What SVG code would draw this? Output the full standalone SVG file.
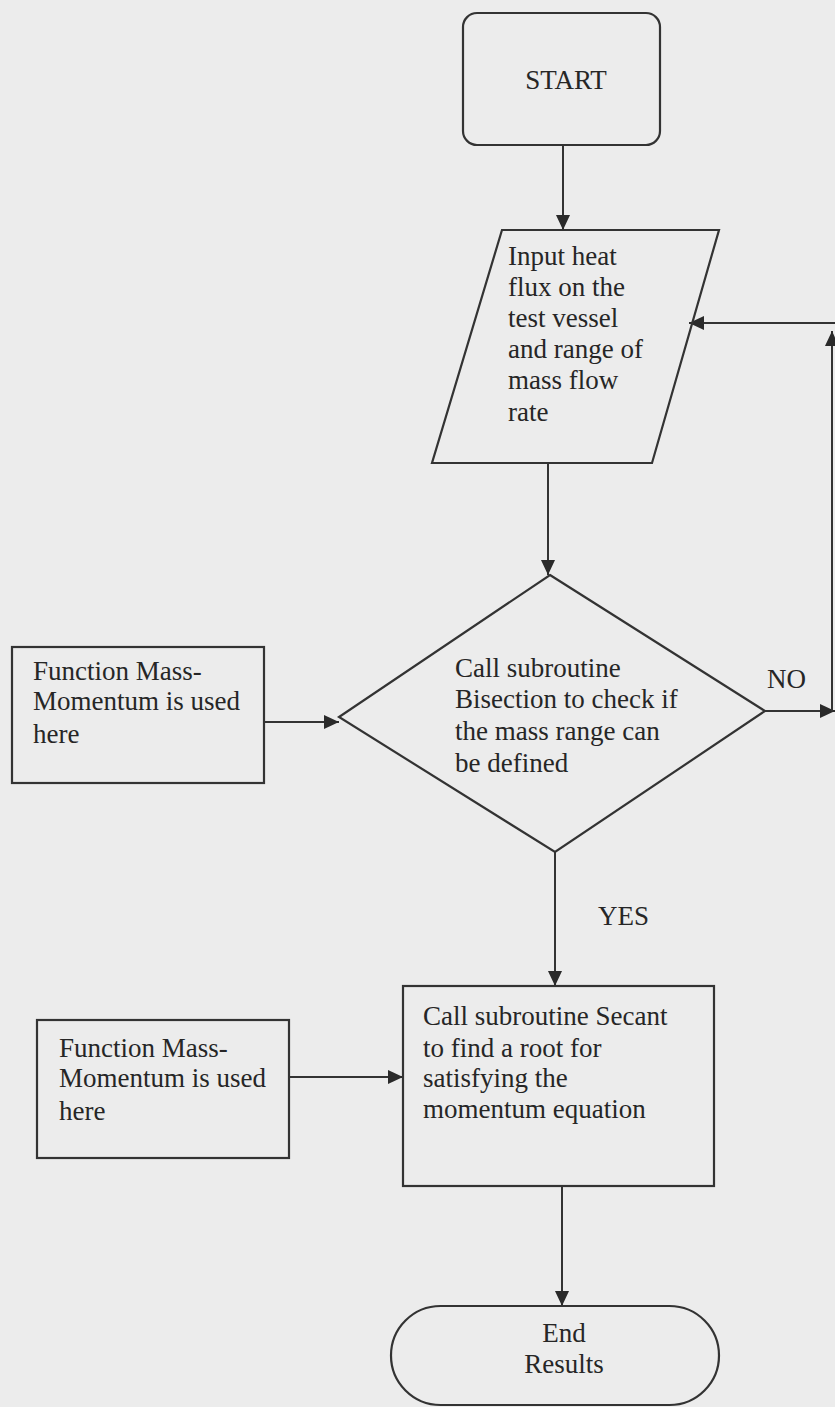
<svg xmlns="http://www.w3.org/2000/svg" width="835" height="1407" viewBox="0 0 835 1407">
<defs>
<marker id="ah" markerUnits="userSpaceOnUse" markerWidth="16" markerHeight="14" refX="15" refY="7" orient="auto">
<path d="M0,0 L15,7 L0,14 z" fill="#2a2a2a"/>
</marker>
<style>
.shape{fill:none;stroke:#333;stroke-width:2.2}
.conn{fill:none;stroke:#333;stroke-width:2}
.t{font-family:"Liberation Serif","Times New Roman",serif;font-size:27px;fill:#262626}
.c{text-anchor:middle}
</style>
</defs>
<rect x="0" y="0" width="835" height="1407" fill="#ececec"/>
<g id="connectors">
<line class="conn" x1="563" y1="145" x2="563" y2="230" marker-end="url(#ah)"/>
<line class="conn" x1="548" y1="463" x2="548" y2="575" marker-end="url(#ah)"/>
<line class="conn" x1="264" y1="722" x2="339" y2="722" marker-end="url(#ah)"/>
<line class="conn" x1="765" y1="711" x2="835" y2="711" marker-end="url(#ah)"/>
<line class="conn" x1="832" y1="711" x2="832" y2="331" marker-end="url(#ah)"/>
<line class="conn" x1="835" y1="323" x2="689" y2="323" marker-end="url(#ah)"/>
<line class="conn" x1="555" y1="852" x2="555" y2="986" marker-end="url(#ah)"/>
<line class="conn" x1="289" y1="1077" x2="403" y2="1077" marker-end="url(#ah)"/>
<line class="conn" x1="562" y1="1186" x2="562" y2="1306" marker-end="url(#ah)"/>
<text class="t" x="767" y="688">NO</text>
<text class="t" x="598" y="925">YES</text>
</g>
<g id="start">
<rect class="shape" x="463" y="13" width="197" height="132" rx="14"/>
<text class="t c" x="566" y="89">START</text>
</g>
<g id="input">
<polygon class="shape" points="502,230 719,230 652,463 432,463"/>
<text class="t" x="508" y="265">Input heat</text>
<text class="t" x="508" y="296">flux on the</text>
<text class="t" x="508" y="327">test vessel</text>
<text class="t" x="508" y="358">and range of</text>
<text class="t" x="508" y="389">mass flow</text>
<text class="t" x="508" y="421">rate</text>
</g>
<g id="bisection">
<polygon class="shape" points="550,575 765,711 555,852 339,717"/>
<text class="t" x="455" y="677">Call subroutine</text>
<text class="t" x="455" y="708">Bisection to check if</text>
<text class="t" x="455" y="740">the mass range can</text>
<text class="t" x="455" y="772">be defined</text>
</g>
<g id="func1">
<rect class="shape" x="12" y="647" width="252" height="136"/>
<text class="t" x="33" y="680">Function Mass-</text>
<text class="t" x="33" y="710">Momentum is used</text>
<text class="t" x="33" y="743">here</text>
</g>
<g id="secant">
<rect class="shape" x="403" y="986" width="311" height="200"/>
<text class="t" x="423" y="1025">Call subroutine Secant</text>
<text class="t" x="423" y="1057">to find a root for</text>
<text class="t" x="423" y="1087">satisfying the</text>
<text class="t" x="423" y="1118">momentum equation</text>
</g>
<g id="func2">
<rect class="shape" x="37" y="1020" width="252" height="138"/>
<text class="t" x="59" y="1057">Function Mass-</text>
<text class="t" x="59" y="1087">Momentum is used</text>
<text class="t" x="59" y="1120">here</text>
</g>
<g id="end">
<rect class="shape" x="391" y="1306" width="328" height="99" rx="49.5"/>
<text class="t c" x="564" y="1342">End</text>
<text class="t c" x="564" y="1373">Results</text>
</g>
</svg>
